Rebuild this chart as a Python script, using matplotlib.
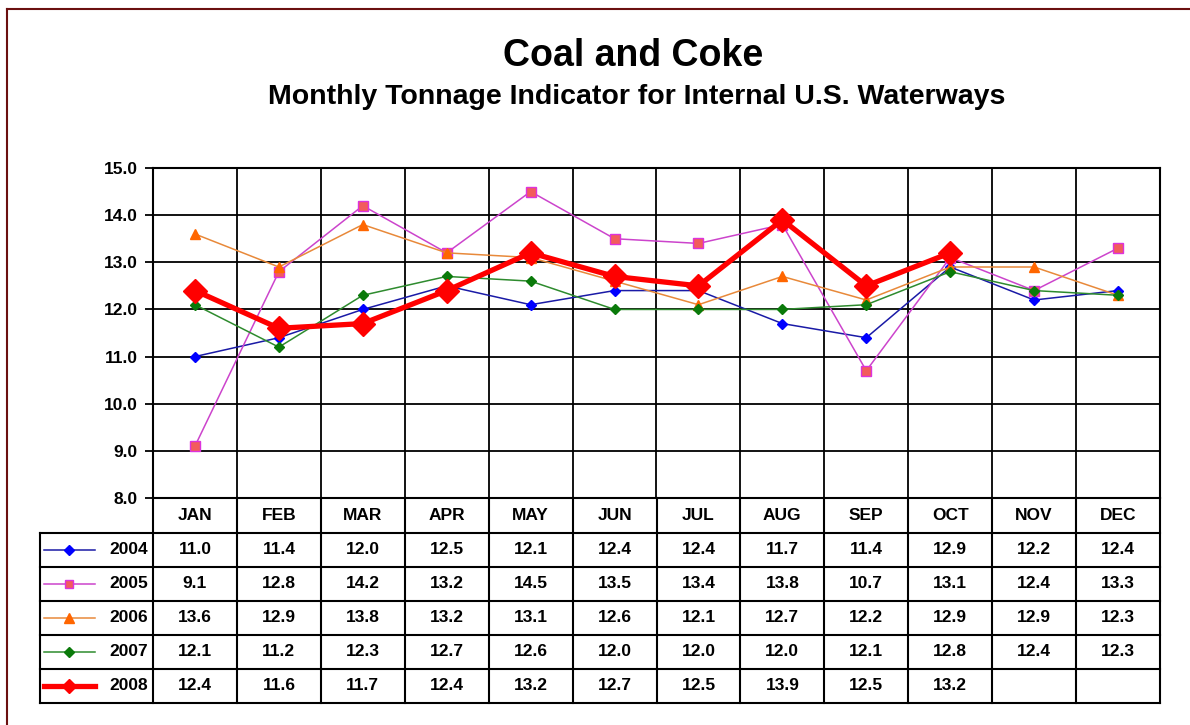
import matplotlib.pyplot as plt
from matplotlib.lines import Line2D

plt.rcParams['font.family'] = ['Liberation Sans', 'DejaVu Sans']

months = ['JAN', 'FEB', 'MAR', 'APR', 'MAY', 'JUN', 'JUL', 'AUG', 'SEP', 'OCT', 'NOV', 'DEC']
years = ['2004', '2005', '2006', '2007', '2008']

v2004 = [11.0, 11.4, 12.0, 12.5, 12.1, 12.4, 12.4, 11.7, 11.4, 12.9, 12.2, 12.4]
v2005 = [9.1, 12.8, 14.2, 13.2, 14.5, 13.5, 13.4, 13.8, 10.7, 13.1, 12.4, 13.3]
v2006 = [13.6, 12.9, 13.8, 13.2, 13.1, 12.6, 12.1, 12.7, 12.2, 12.9, 12.9, 12.3]
v2007 = [12.1, 11.2, 12.3, 12.7, 12.6, 12.0, 12.0, 12.0, 12.1, 12.8, 12.4, 12.3]
v2008 = [12.4, 11.6, 11.7, 12.4, 13.2, 12.7, 12.5, 13.9, 12.5, 13.2]

series = [v2004, v2005, v2006, v2007, v2008]

# line styles per year
styles = [
    dict(color='#1a1aa6', lw=1.1, marker='D', ms=5.5, mfc='#0000ff', mec='#0000ff'),
    dict(color='#cc44cc', lw=1.1, marker='s', ms=7, mfc='#f25c5c', mec='#dd33dd'),
    dict(color='#e8893a', lw=1.1, marker='^', ms=7.5, mfc='#ff6600', mec='#ff6600'),
    dict(color='#2e8b2e', lw=1.1, marker='D', ms=5.5, mfc='#0a7a0a', mec='#0a7a0a'),
    dict(color='#ff0000', lw=3.8, marker='D', ms=12, mfc='#ff0000', mec='#ff0000'),
]

W, H = 1190, 725
fig = plt.figure(figsize=(W / 100, H / 100), dpi=100)

px_left, px_right = 153, 1160
px_top, px_axis, px_bottom = 168, 498, 703
tab_left = 40
fs = 12.5

ax = fig.add_axes([px_left / W, 1 - px_axis / H, (px_right - px_left) / W, (px_axis - px_top) / H])
for vals, st in zip(series, styles):
    x = [i + 0.5 for i in range(len(vals))]
    ax.plot(x, vals, **st, zorder=3)

ax.set_xlim(0, 12)
ax.set_ylim(8, 15)
ax.set_yticks([8, 9, 10, 11, 12, 13, 14, 15])
ax.set_yticklabels(['%.1f' % t for t in ax.get_yticks()], fontsize=fs, fontweight='bold')
ax.set_xticks(range(13), minor=False)
ax.set_xticklabels([])
ax.tick_params(axis='x', length=0)
ax.tick_params(axis='y', direction='out', length=6, width=1.3, pad=5)
ax.grid(True, color='black', lw=1.3)
for s in ax.spines.values():
    s.set_linewidth(1.5)

# data table under the plot
unit = (px_right - px_left) / 12
leg_w = (px_left - tab_left) / unit
tab = fig.add_axes([tab_left / W, 1 - px_bottom / H, (px_right - tab_left) / W, (px_bottom - px_axis) / H])
tab.set_xlim(-leg_w, 12)
tab.set_ylim(0, px_bottom - px_axis)
tab.axis('off')

hdr_h = 35
row_h = 34
top = px_bottom - px_axis
lk = dict(color='black', lw=1.5, clip_on=False)
for k in range(6):
    y = top - hdr_h - k * row_h
    tab.plot([-leg_w, 12], [y, y], **lk)
for i in range(13):
    tab.plot([i, i], [0, top], **lk)
tab.plot([-leg_w, -leg_w], [0, top - hdr_h], **lk)

for i, m in enumerate(months):
    tab.text(i + 0.5, top - hdr_h / 2, m, ha='center', va='center', fontsize=fs, fontweight='bold')

for r, (yr, vals, st) in enumerate(zip(years, series, styles)):
    yc = top - hdr_h - (r + 0.5) * row_h
    for i, v in enumerate(vals):
        tab.text(i + 0.5, yc, '%.1f' % v, ha='center', va='center', fontsize=fs, fontweight='bold')
    ms = st['ms'] * (0.6 if r == 4 else 0.9)
    tab.plot([-leg_w + 0.05, -leg_w + 0.65], [yc, yc], color=st['color'], lw=st['lw'], clip_on=False)
    tab.plot([-leg_w + 0.35], [yc], marker=st['marker'], ms=ms,
             mfc=st['mfc'], mec=st['mec'], lw=0, clip_on=False)
    tab.text(-0.06, yc, yr, ha='right', va='center', fontsize=fs, fontweight='bold')

# titles
fig.text(633 / W, 1 - 56 / H, 'Coal and Coke', ha='center', va='center', fontsize=27, fontweight='bold')
fig.text(637 / W, 1 - 97 / H, 'Monthly Tonnage Indicator for Internal U.S. Waterways',
         ha='center', va='center', fontsize=20.5, fontweight='bold')

# outer frame (left and top edges visible)
fig.add_artist(Line2D([7 / W, 7 / W], [0, 1 - 9 / H], color='#6b1010', lw=1.5))
fig.add_artist(Line2D([7 / W, 1], [1 - 9 / H, 1 - 9 / H], color='#6b1010', lw=1.5))

fig.savefig('out.png', dpi=100)
